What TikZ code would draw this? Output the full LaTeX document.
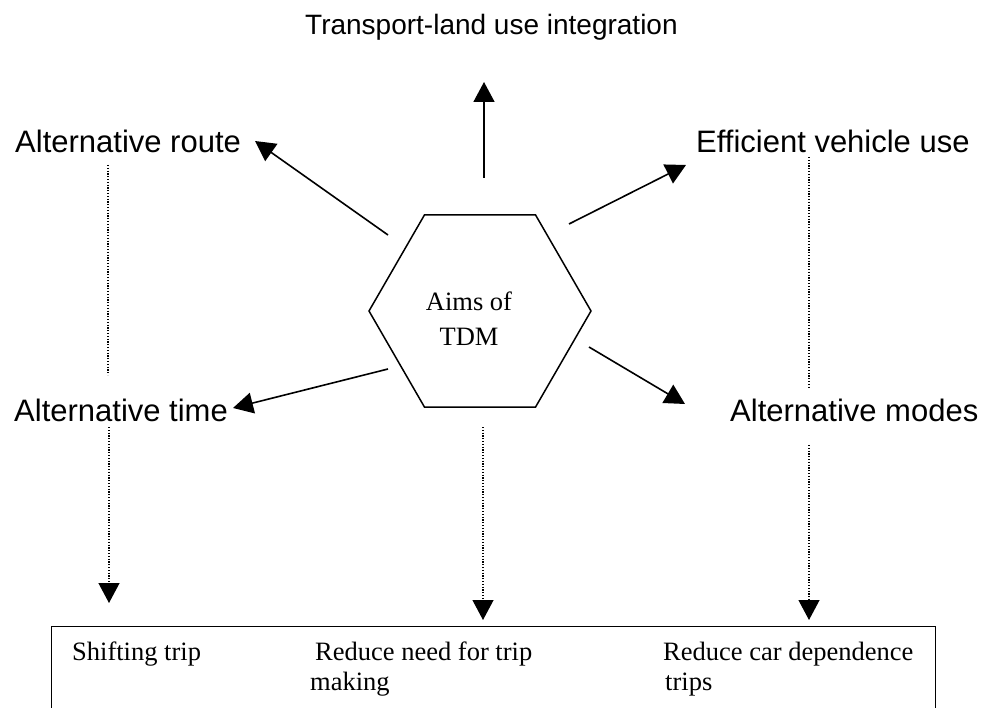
\documentclass[tikz,border=0pt]{standalone}
\usepackage{fontspec}
\usepackage{tikz}
\usetikzlibrary{shapes.geometric,arrows.meta,positioning,calc}
\newfontfamily\labelfont{Liberation Sans}
\newfontfamily\boxfont{Liberation Serif}
\tikzset{
  aim/.style={
    shape = regular polygon,
    regular polygon sides = 6,
    minimum size = 222pt,
    inner sep = 0pt,
    draw,
    line width = 1.5pt,
    align = center,
    font = \boxfont\fontsize{26.5}{35}\selectfont
  },
  goal/.style={
    anchor = base west,
    inner sep = 0pt,
    font = \labelfont\fontsize{31}{37}\selectfont
  },
  outcome/.style={
    anchor = base west,
    inner sep = 0pt,
    align = left,
    font = \boxfont\fontsize{26.5}{30}\selectfont
  },
  flow/.style={
    line width = 1.6pt,
    -{Triangle[length=20pt,width=21pt]}
  },
  dotline/.style={
    line width = 1.2pt,
    dash pattern = on 1.2pt off 1.6pt
  },
  dotflow/.style={
    dotline,
    -{Triangle[length=20pt,width=21pt]}
  }
}
\begin{document}
\begin{tikzpicture}[x=1pt, y=-1pt]
    \useasboundingbox (0,0) rectangle (982,708);
    \clip (0,0) rectangle (982,708);
    % centre
    \node[aim] (aims) at (480,311) {\rule{0pt}{34pt}Aims of\hspace*{22pt}\\TDM\hspace*{22pt}};
    % aims around it
    \node[goal, font=\labelfont\fontsize{28}{34}\selectfont] (landuse) at (305,35) {Transport-land use integration};
    \node[goal] (altroute) at (15,153) {Alternative route};
    \node[goal] (efficient) at (696,153) {Efficient vehicle use};
    \node[goal] (alttime) at (14,421) {Alternative time};
    \node[goal] (altmodes) at (730,421) {Alternative modes};
    % outcomes (base = last line)
    \node[draw, line width=1.4pt, inner sep=0pt, anchor=north west,
          minimum width=884pt, minimum height=120pt] (outcomes) at (51,626) {};
    \node[outcome] (shifting) at (72,660) {Shifting trip};
    \node[outcome] (needtrip) at (310,690) {\hspace*{5pt}Reduce need for trip\\making};
    \node[outcome] (cartrips) at (663,690) {Reduce car dependence\\\hspace*{2pt}trips};
    % arrow ends
    \coordinate (up0) at (484,178);
    \coordinate (up1) at (484,82);
    \coordinate (ul0) at (388,235);
    \coordinate (ul1) at (255,141);
    \coordinate (ur0) at (569,224);
    \coordinate (ur1) at (686,165);
    \coordinate (ll0) at (388,369);
    \coordinate (ll1) at (233,408);
    \coordinate (lr0) at (589,347);
    \coordinate (lr1) at (685,404);
    \draw[flow] (up0) -- (up1);
    \draw[flow] (ul0) -- (ul1);
    \draw[flow] (ur0) -- (ur1);
    \draw[flow] (ll0) -- (ll1);
    \draw[flow] (lr0) -- (lr1);
    % dotted links
    \coordinate (dl0) at (108,165);
    \coordinate (dl1) at (108,375);
    \coordinate (dr0) at (809,157);
    \coordinate (dr1) at (809,389);
    \draw[dotline] (dl0) -- (dl1);
    \draw[dotline] (dr0) -- (dr1);
    \coordinate (dl) at (109,427);
    \coordinate (dm) at (483,427);
    \coordinate (dr) at (809,445);
    \draw[dotflow, shorten >=23pt] (dl) -- (dl |- outcomes.north);
    \draw[dotflow, shorten >=6pt] (dm) -- (dm |- outcomes.north);
    \draw[dotflow, shorten >=6pt] (dr) -- (dr |- outcomes.north);
\end{tikzpicture}
\end{document}
